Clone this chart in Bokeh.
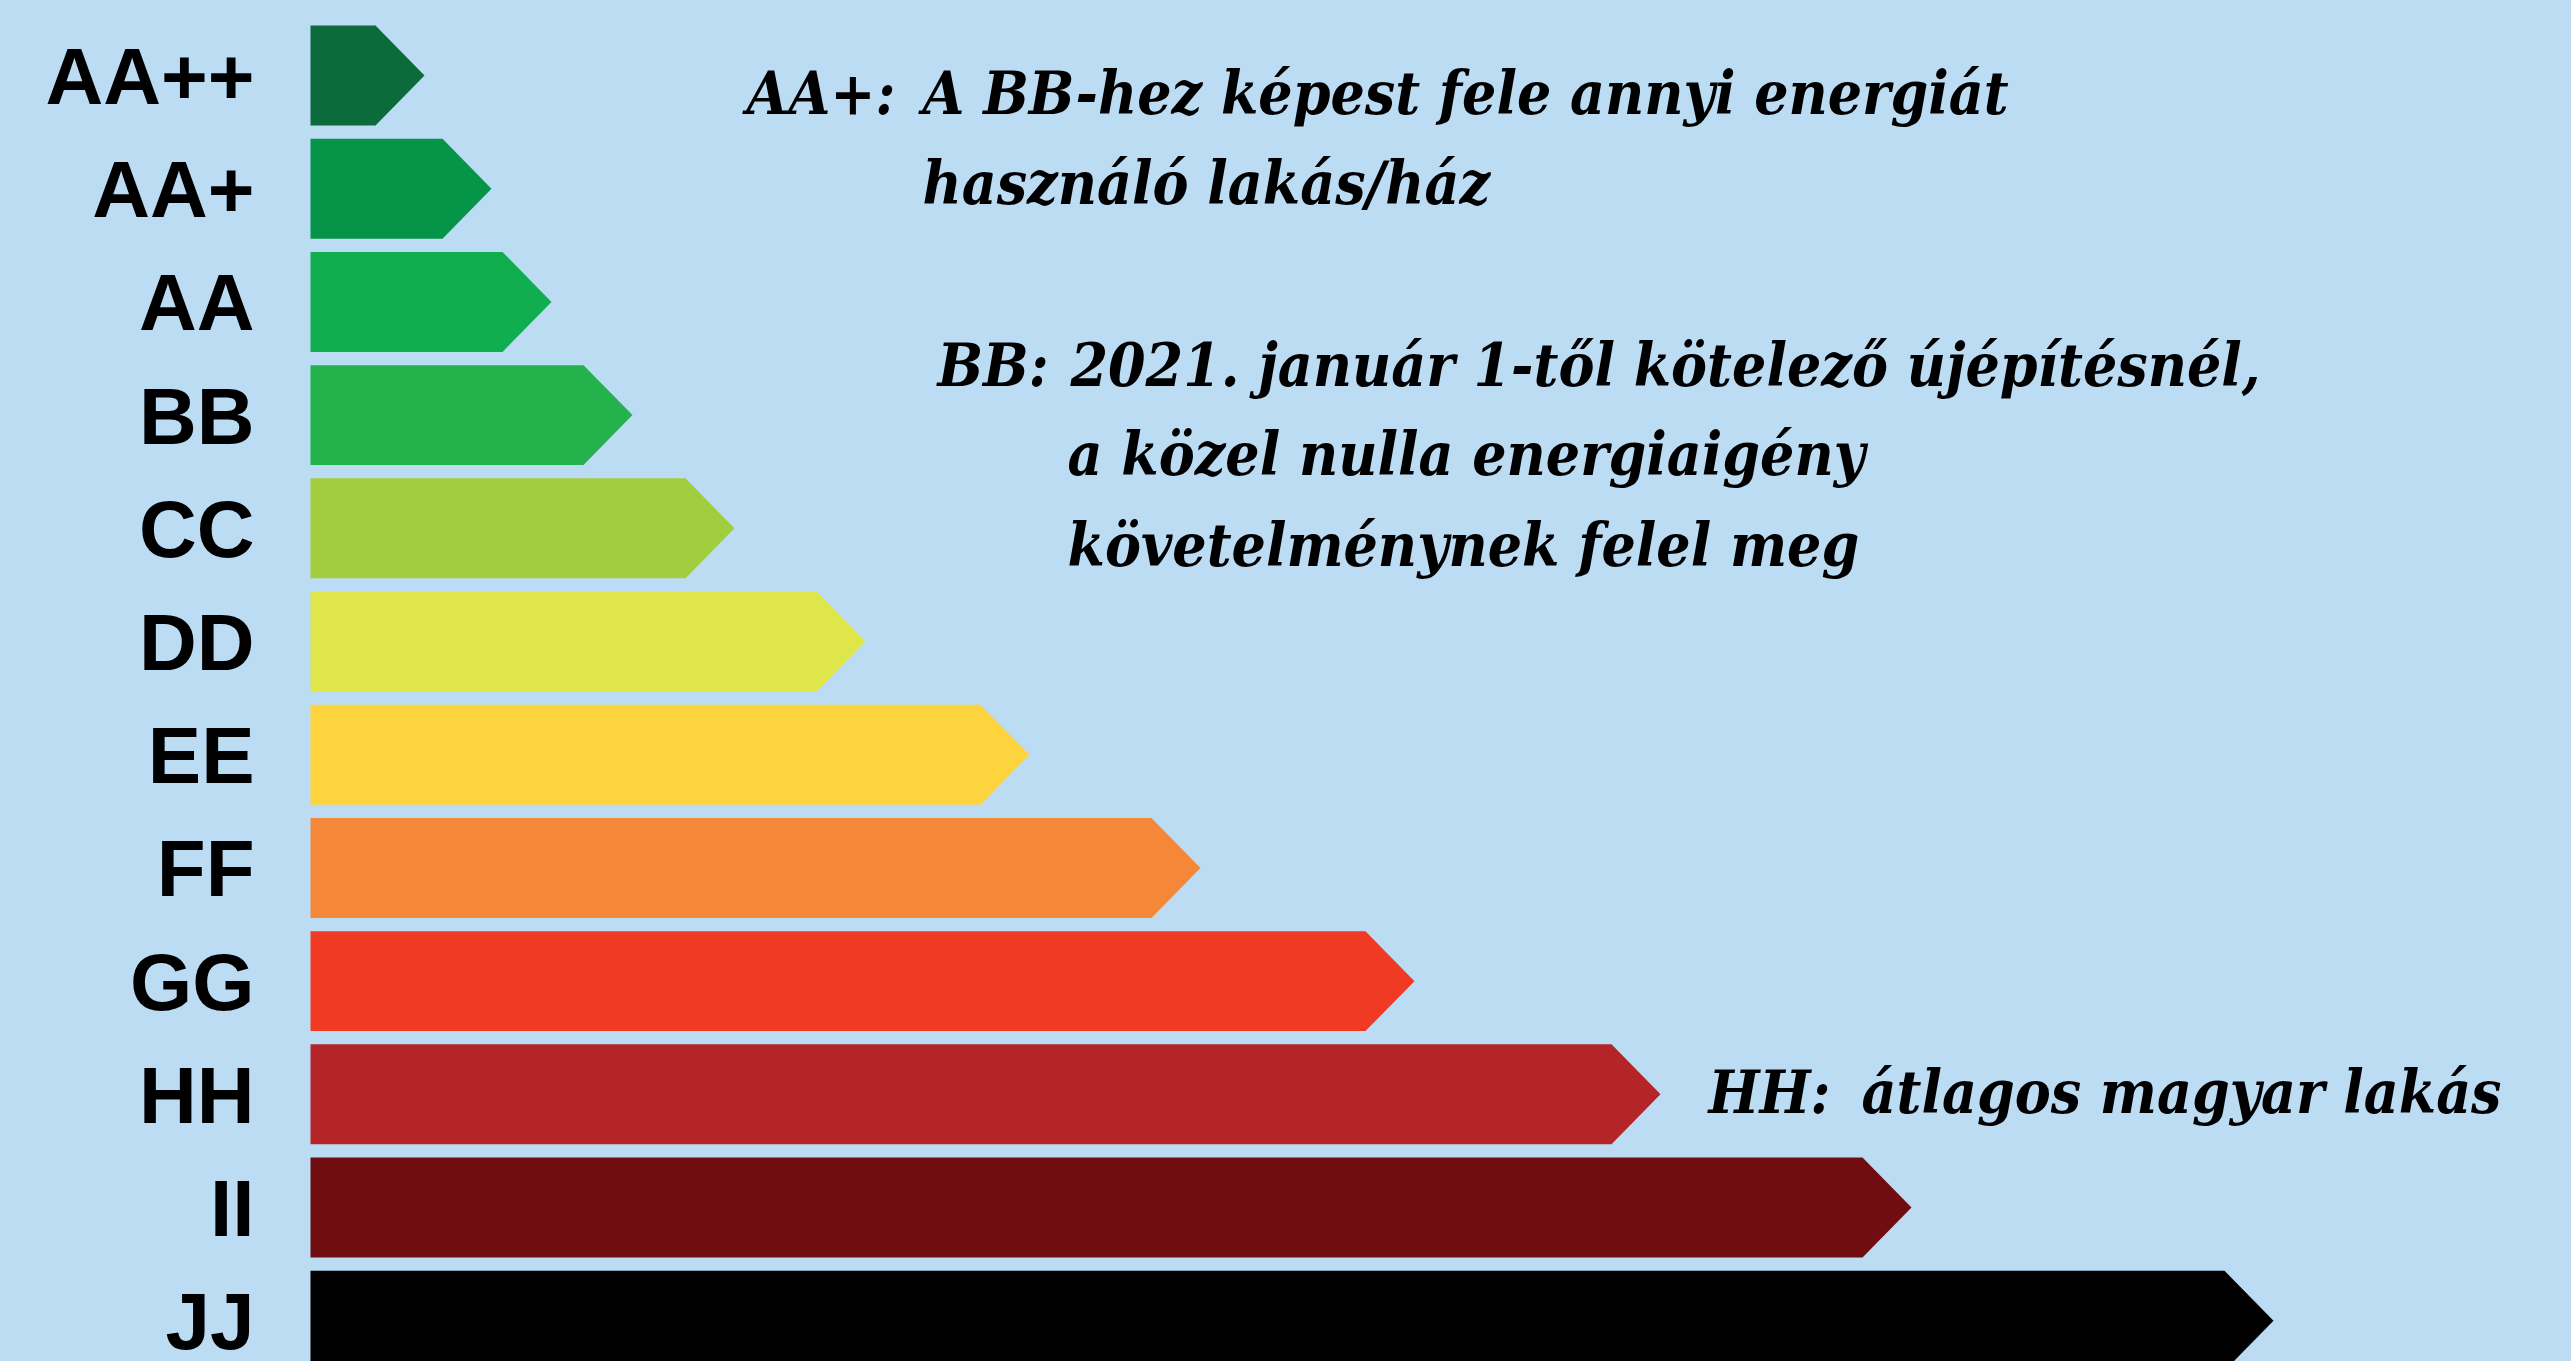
from bokeh.plotting import figure
from bokeh.models import Range1d, Label, ColumnDataSource
from bokeh.core.properties import value
from bokeh.embed import file_html
from bokeh.resources import INLINE

# ---- data ----
classes = ["AA++", "AA+", "AA", "BB", "CC", "DD", "EE", "FF", "GG", "HH", "II", "JJ"]
lengths = [114, 181, 241, 322, 424, 555, 719, 890, 1104, 1350, 1601, 1963]
colors = ["#0b6b3a", "#069548", "#11ae4f", "#23b24b", "#a2cd3f", "#dfe64a",
          "#fed43e", "#f48838", "#f03a24", "#b42528", "#6f0d10", "#000000"]

note_aa = ["AA+:", "A BB-hez képest fele annyi energiát", "használó lakás/ház"]
note_bb = ["BB:", "2021. január 1-től kötelező újépítésnél,",
           "a közel nulla energiaigény", "követelménynek felel meg"]
note_hh = ["HH:", "átlagos magyar lakás"]

BG = "#bcdcf4"
W, H = 2571, 1361
TIP = 49          # arrow point depth
BAR_H = 0.883     # bar thickness in category units

p = figure(width=W, height=H, output_backend="svg", toolbar_location=None,
           x_range=Range1d(-310, W - 310), y_range=Range1d(11.36, -0.6625),
           min_border=0, background_fill_color=BG, border_fill_color=BG,
           outline_line_color=None)
p.axis.visible = False
p.grid.visible = False

idx = list(range(len(classes)))
xs, ys = [], []
for i, v in zip(idx, lengths):
    h = BAR_H / 2
    xs.append([0, v - TIP, v, v - TIP, 0])
    ys.append([i - h, i - h, i, i + h, i + h])
p.patches(xs=xs, ys=ys, fill_color=colors, line_color=None)

src = ColumnDataSource(dict(x=[0] * len(classes), y=idx, t=classes))
p.text(x="x", y="y", text="t", source=src, x_offset=-56, y_offset=1,
       text_align="right", text_baseline="alphabetic",
       text_font=value("Liberation Sans"), text_font_style="bold",
       text_font_size="80px", text_color="black")

FONT = "DejaVu Serif Condensed"
def note(x, y, t, yoff=0):
    p.add_layout(Label(x=x, y=y, text=t, y_offset=22 - yoff, text_font=FONT,
                       text_font_style="bold italic", text_font_size="60px",
                       text_color="black", text_baseline="alphabetic"))

note(436, 0.353, note_aa[0])
note(612, 0.353, note_aa[1])
note(612, 1.148, note_aa[2])
note(627, 2.756, note_bb[0])
note(760, 2.756, note_bb[1])
note(757, 3.542, note_bb[2])
note(757, 4.346, note_bb[3])
note(1398, 9, note_hh[0], 20)
note(1551, 9, note_hh[1], 20)

html = file_html(p, INLINE)
html = html.replace("<head>", "<head><style>html,body{background:%s;}</style>" % BG, 1)
open("out.html", "w").write(html)
